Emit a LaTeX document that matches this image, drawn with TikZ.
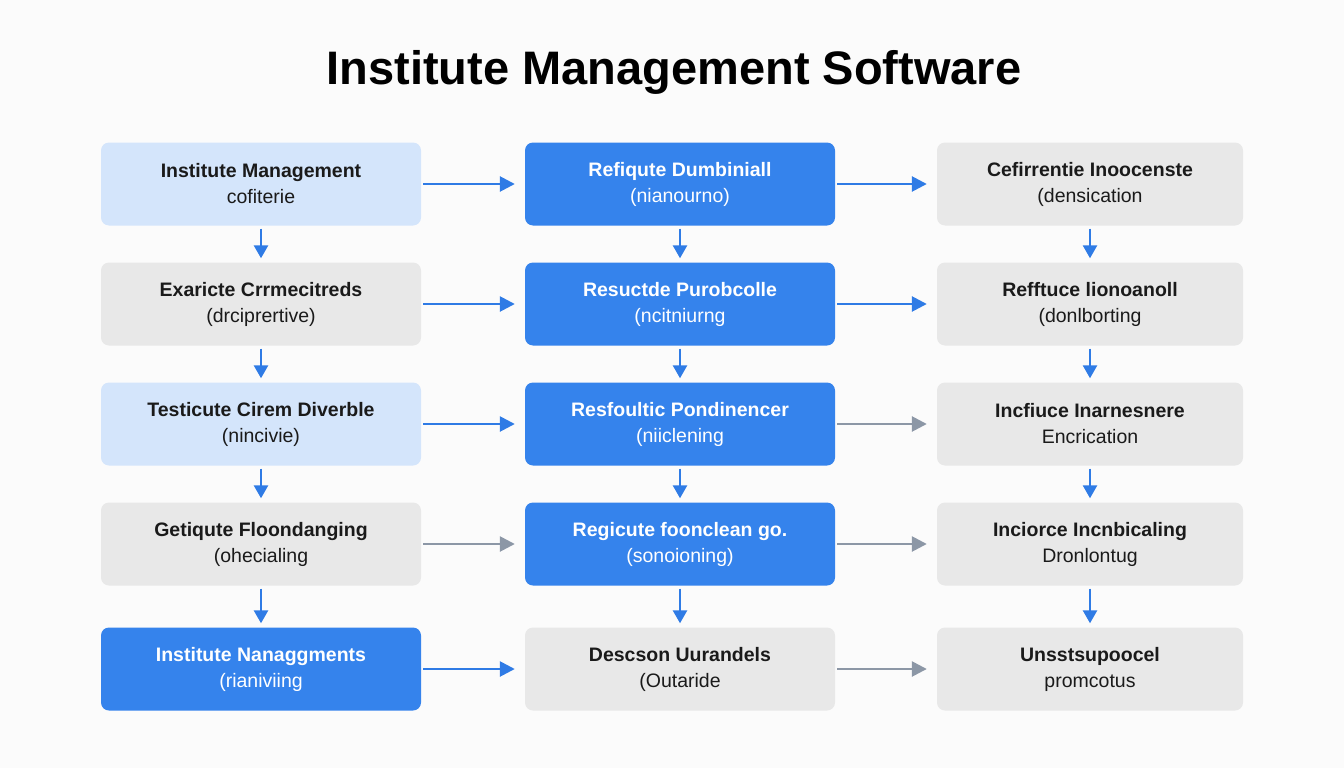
\documentclass[tikz,border=0pt]{standalone}
\usepackage{fontspec}
\setmainfont{Liberation Sans}
\usetikzlibrary{arrows.meta}
\definecolor{lb}{HTML}{D4E5FB}
\definecolor{bb}{HTML}{3583EC}
\definecolor{gb}{HTML}{E8E8E8}
\definecolor{ab}{HTML}{2F7BE5}
\definecolor{ag}{HTML}{8C97A6}
\definecolor{tx}{HTML}{1A1A1A}
\begin{document}
\begin{tikzpicture}[x=1pt,y=-1pt,
 box/.style={rounded corners=8pt,minimum height=83pt,align=center,font=\fontsize{19.5}{26}\selectfont,inner sep=0pt},
 L/.style={box,fill=lb,text=tx},
 B/.style={box,fill=bb,text=white},
 G/.style={box,fill=gb,text=tx},
 cl/.style={minimum width=320pt},
 cc/.style={minimum width=310pt},
 cr/.style={minimum width=306pt},
 ha/.style={-{Triangle[length=15pt,width=15pt]},line width=2.6pt,shorten <=2pt,shorten >=10pt},
 va/.style={-{Triangle[length=13pt,width=14pt]},line width=2.6pt,ab,shorten <=3pt,shorten >=4pt},
 hb/.style={ha,ab}, hg/.style={ha,ag}]
\fill[white!97!gray] (0,0) rectangle (1344,768);
\useasboundingbox (0,0) rectangle (1344,768);
\node[font=\fontsize{47}{54}\selectfont\bfseries,text=black] (title) at (674,72) {Institute Management Software};
% rows
\node[L,cl] (l1) at (261,184) {\textbf{Institute Management}\\cofiterie};
\node[B,cc] (c1) at (680,184) {\textbf{Refiqute Dumbiniall}\\(nianourno)};
\node[G,cr] (r1) at (1090,184) {\textbf{Cefirrentie Inoocenste}\\(densication};
\node[G,cl] (l2) at (261,304) {\textbf{Exaricte Crrmecitreds}\\(drciprertive)};
\node[B,cc] (c2) at (680,304) {\textbf{Resuctde Purobcolle}\\(ncitniurng};
\node[G,cr] (r2) at (1090,304) {\textbf{Refftuce lionoanoll}\\(donlborting};
\node[L,cl] (l3) at (261,424) {\textbf{Testicute Cirem Diverble}\\(nincivie)};
\node[B,cc] (c3) at (680,424) {\textbf{Resfoultic Pondinencer}\\(niiclening};
\node[G,cr] (r3) at (1090,424) {\textbf{Incfiuce Inarnesnere}\\Encrication};
\node[G,cl] (l4) at (261,544) {\textbf{Getiqute Floondanging}\\(ohecialing};
\node[B,cc] (c4) at (680,544) {\textbf{Regicute foonclean go.}\\(sonoioning)};
\node[G,cr] (r4) at (1090,544) {\textbf{Inciorce Incnbicaling}\\Dronlontug};
\node[B,cl] (l5) at (261,669) {\textbf{Institute Nanaggments}\\(rianiviing};
\node[G,cc] (c5) at (680,669) {\textbf{Descson Uurandels}\\(Outaride};
\node[G,cr] (r5) at (1090,669) {\textbf{Unsstsupoocel}\\promcotus};
% horizontal
\draw[hb] (l1) -- (c1); \draw[hb] (c1) -- (r1);
\draw[hb] (l2) -- (c2); \draw[hb] (c2) -- (r2);
\draw[hb] (l3) -- (c3); \draw[hg] (c3) -- (r3);
\draw[hg] (l4) -- (c4); \draw[hg] (c4) -- (r4);
\draw[hb] (l5) -- (c5); \draw[hg] (c5) -- (r5);
% vertical
\foreach \c in {l,c,r}{
 \draw[va] (\c1) -- (\c2); \draw[va] (\c2) -- (\c3);
 \draw[va] (\c3) -- (\c4); \draw[va] (\c4) -- (\c5);}
\end{tikzpicture}
\end{document}
